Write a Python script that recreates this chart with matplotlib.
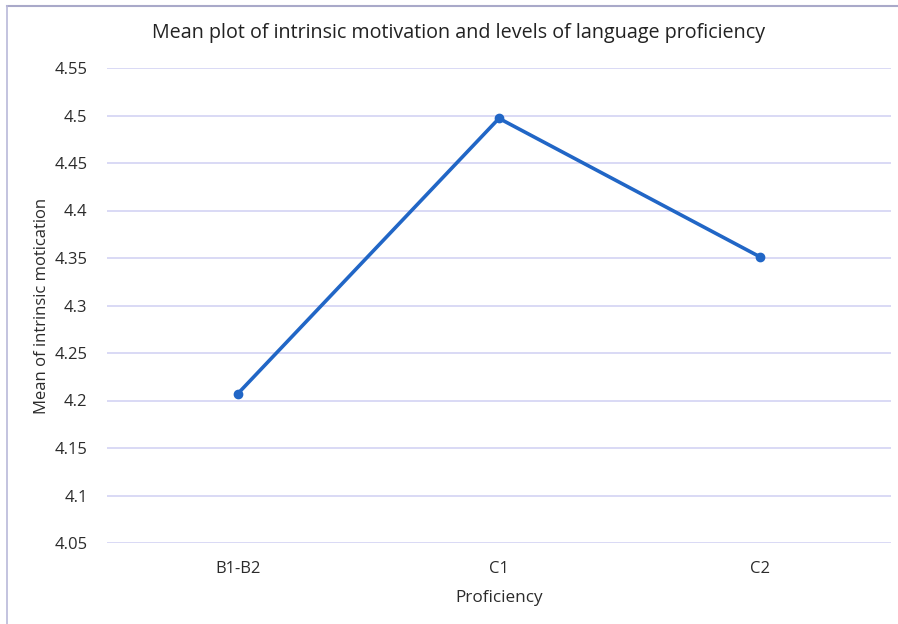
import matplotlib
matplotlib.use("Agg")
import matplotlib.pyplot as plt
from matplotlib.lines import Line2D

categories = ["B1-B2", "C1", "C2"]
means = [4.207, 4.497, 4.351]
yticks = [4.05, 4.1, 4.15, 4.2, 4.25, 4.3, 4.35, 4.4, 4.45, 4.5, 4.55]
ytick_labels = ["4.05", "4.1", "4.15", "4.2", "4.25", "4.3", "4.35", "4.4", "4.45", "4.5", "4.55"]

plt.rcParams['font.family'] = ['Open Sans', 'DejaVu Sans']

fig = plt.figure(figsize=(8.98, 6.24), dpi=100)
ax = fig.add_axes([107/898, 1-543/624, 784/898, 475/624])

x = list(range(len(categories)))
ax.plot(x, means, color="#2166c6", linewidth=2.6, marker="o", markersize=6, zorder=3)

ax.set_xlim(-0.5, 2.5)
ax.set_ylim(4.05, 4.55)
ax.set_yticks(yticks)
ax.set_yticklabels(ytick_labels)
ax.set_xticks(x)
ax.set_xticklabels(categories)
ax.grid(axis="y", color="#cfcff2", linewidth=1.1)
ax.set_axisbelow(True)
for s in ax.spines.values():
    s.set_visible(False)
ax.tick_params(axis="both", length=0, labelsize=12, colors="#2b2b2b")
ax.tick_params(axis="y", pad=14)
ax.tick_params(axis="x", pad=13)

ax.set_xlabel("Proficiency", fontsize=12.3, color="#2b2b2b", labelpad=9)
ax.set_ylabel("Mean of intrinsic motication", fontsize=12, color="#2b2b2b", labelpad=3)
fig.text(459/898, 1-33/624, "Mean plot of intrinsic motivation and levels of language proficiency",
         ha="center", va="center", fontsize=14.2, color="#222222")

# frame
fig.add_artist(Line2D([7/898, 1], [1-6/624, 1-6/624], transform=fig.transFigure, color="#a9a9c9", linewidth=1.5))
fig.add_artist(Line2D([7/898, 7/898], [0, 1-6/624], transform=fig.transFigure, color="#b9b9d9", linewidth=1.2))

fig.savefig("out.png", dpi=100)
